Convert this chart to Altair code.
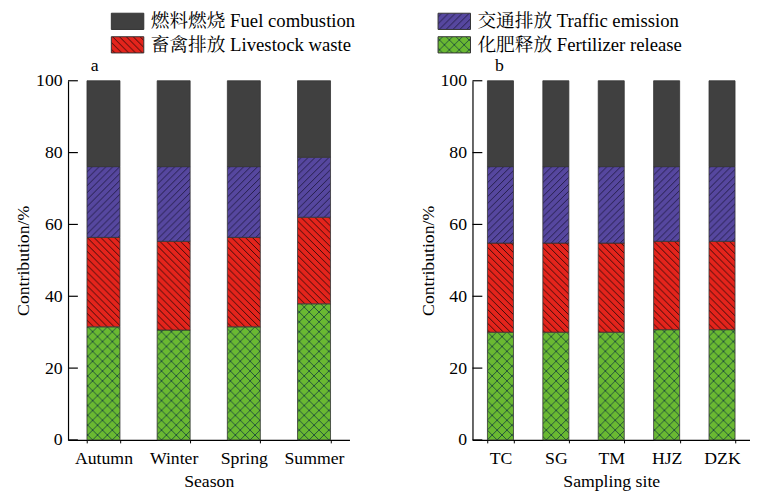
import altair as alt
import pandas as pd

# ---------------- data ----------------
seasons = ["Autumn", "Winter", "Spring", "Summer"]
sites = ["TC", "SG", "TM", "HJZ", "DZK"]

src_fuel = "燃料燃烧 Fuel combustion"
src_traffic = "交通排放 Traffic emission"
src_live = "畜禽排放 Livestock waste"
src_fert = "化肥释放 Fertilizer release"

legend_order = [src_fuel, src_live, src_traffic, src_fert]  # column-wise: col1 Fuel/Livestock, col2 Traffic/Fertilizer
stack_order = [src_fert, src_live, src_traffic, src_fuel]  # bottom -> top

fert_season = [31.5, 30.6, 31.5, 37.9]
live_season = [24.9, 24.7, 24.9, 24.1]
traffic_season = [19.7, 20.8, 19.7, 16.7]
fuel_season = [23.9, 23.9, 23.9, 21.3]

fert_site = [30.0, 30.0, 30.0, 30.7, 30.7]
live_site = [24.8, 24.8, 24.8, 24.6, 24.6]
traffic_site = [21.3, 21.3, 21.3, 20.8, 20.8]
fuel_site = [23.9, 23.9, 23.9, 23.9, 23.9]

y_ticks = [0, 20, 40, 60, 80, 100]

FONT = "Liberation Serif, Times New Roman, Noto Serif CJK SC, Noto Sans CJK SC, serif"

fills = ["#404040", "url(#hatchLive)", "url(#hatchTraffic)", "url(#hatchFert)"]

DEFS = """<svg width="0" height="0" style="position:absolute;width:0;height:0;overflow:hidden" aria-hidden="true"><defs>
<pattern id="hatchTraffic" patternUnits="userSpaceOnUse" width="7" height="7">
<rect width="7" height="7" fill="#56479f"/>
<path d="M-1,1 L1,-1 M0,7 L7,0 M6,8 L8,6" stroke="#1e1840" stroke-width="0.9"/>
</pattern>
<pattern id="hatchLive" patternUnits="userSpaceOnUse" width="7" height="7">
<rect width="7" height="7" fill="#e4241c"/>
<path d="M-1,6 L1,8 M0,0 L7,7 M6,-1 L8,1" stroke="#2a0806" stroke-width="0.9"/>
</pattern>
<pattern id="hatchFert" patternUnits="userSpaceOnUse" width="10" height="10">
<rect width="10" height="10" fill="#6ab932"/>
<path d="M0,0 L10,10 M10,0 L0,10" stroke="#1c4a3a" stroke-width="0.9"/>
</pattern>
</defs></svg>
"""


def build_df(cats, fert, live, traffic, fuel):
    rows = []
    for i, c in enumerate(cats):
        for rank, (s, vals) in enumerate(zip(stack_order, [fert, live, traffic, fuel])):
            rows.append({"cat": c, "source": s, "value": vals[i], "rank": rank})
    return pd.DataFrame(rows)


df_season = build_df(seasons, fert_season, live_season, traffic_season, fuel_season)
df_site = build_df(sites, fert_site, live_site, traffic_site, fuel_site)
df_ticks = pd.DataFrame({"t": y_ticks})

legend = alt.Legend(
    title=None,
    orient="none",
    legendX=43,
    legendY=-70,
    columns=2,
    columnPadding=82,
    rowPadding=3,
    symbolType="M-2,-1H2V1H-2Z",
    symbolSize=272,
    symbolOffset=8,
    symbolStrokeColor="#333333",
    symbolStrokeWidth=1,
    labelFont=FONT,
    labelFontSize=19,
    labelColor="black",
    labelOffset=14,
    labelLimit=400,
)

y_axis = alt.Axis(values=y_ticks, ticks=False, grid=False, labelPadding=6,
                  title="Contribution/%", titlePadding=3)
y_scale = alt.Scale(domain=[0, 100], nice=False)


def panel(df, cats, xtitle, tag, w):
    bars = alt.Chart(df).mark_bar(stroke="#333333", strokeWidth=0.8).encode(
        x=alt.X(
            "cat:N",
            sort=cats,
            title=xtitle,
            scale=alt.Scale(paddingInner=0.53, paddingOuter=0.27),
            axis=alt.Axis(labelAngle=0, ticks=True, tickBand="extent", tickSize=3,
                          tickColor="black", tickWidth=1,
                          labelPadding=7, titlePadding=5),
        ),
        y=alt.Y("value:Q", stack="zero", scale=y_scale, axis=y_axis),
        color=alt.Color("source:N", scale=alt.Scale(domain=legend_order, range=fills), legend=legend),
        order=alt.Order("rank:Q", sort="ascending"),
    )
    ticks = alt.Chart(df_ticks).mark_rule(color="black", strokeWidth=1.2).encode(
        y=alt.Y("t:Q", scale=y_scale, axis=y_axis),
        x=alt.value(0),
        x2=alt.value(10),
    )
    return alt.layer(bars, ticks).properties(
        width=w,
        height=365,
        title=alt.TitleParams(tag, anchor="start", frame="group", dx=23, dy=6, offset=3,
                              fontSize=18, font=FONT, fontWeight="normal", color="black"),
    )


pa = panel(df_season, seasons, "Season", "a", 286)
pb = panel(df_site, sites, "Sampling site", "b", 282)

chart = alt.hconcat(pa, pb, spacing=71).properties(
    padding={"left": 7, "top": 0, "right": 0, "bottom": 0}
).configure_view(stroke=None).configure_axis(
    labelFont=FONT, labelFontSize=18, labelColor="black",
    titleFont=FONT, titleFontSize=18, titleFontWeight="normal", titleColor="black",
    domainColor="black", domainWidth=1.2,
)

# ---- add pattern defs to the page via the html template ----
save_kwargs = {}
try:
    import altair.utils.html as _ah
    _base = _ah.TEMPLATES["standard"]

    class _PatternTemplate(type(_base)):
        def render(self, *args, **kwargs):
            html = _base.render(*args, **kwargs)
            if "<body>" in html:
                return html.replace("<body>", "<body>\n" + DEFS, 1)
            return html.replace("<div id=", DEFS + "<div id=", 1)

    _tpl = object.__new__(_PatternTemplate)
    _tpl.__dict__.update(_base.__dict__)
    save_kwargs["template"] = _tpl
except Exception:
    save_kwargs = {}

try:
    chart.save("out.html", embed_options={"renderer": "svg", "actions": False}, **save_kwargs)
except Exception:
    chart.save("out.html", embed_options={"renderer": "svg", "actions": False})
